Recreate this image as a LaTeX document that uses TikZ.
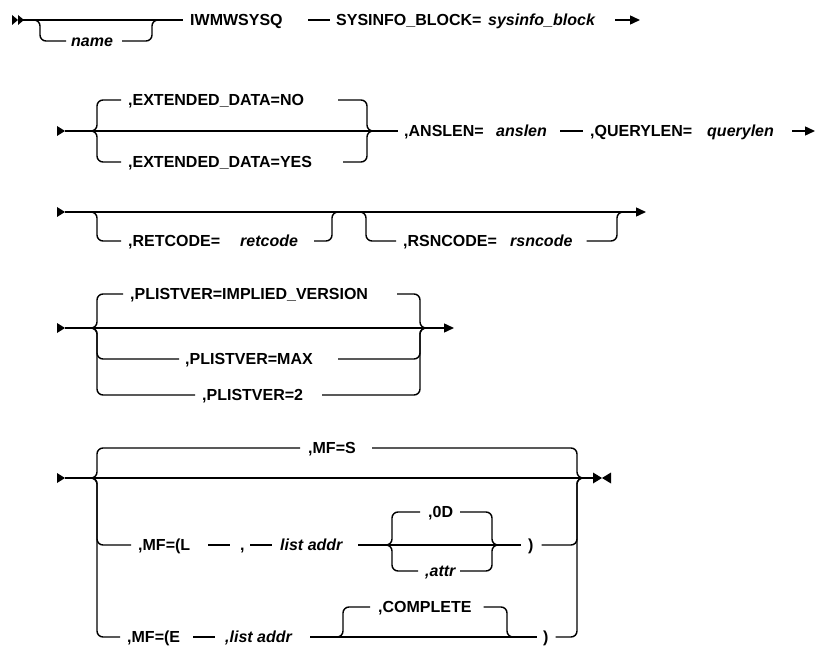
\documentclass[tikz,border=0pt]{standalone}
\usepackage{fontspec}
\setmainfont{Liberation Sans}
\usetikzlibrary{arrows.meta}
\tikzset{
  rr/.style={draw=black, line width=1.4pt, rounded corners=6pt},
  kw/.style={anchor=west, inner sep=0pt, text height=11.5pt, text depth=0pt, font=\fontsize{16}{18}\selectfont\bfseries},
  var/.style={kw, font=\fontsize{16}{18}\selectfont\bfseries\itshape},
  tipr/.style={-{Triangle[length=10pt,width=9pt]}},
}
\begin{document}
\begin{tikzpicture}[x=1pt,y=-1pt]
\useasboundingbox (0,0) rectangle (817,647);
% ---------------- Row 1
\coordinate (r1s) at (12,20);
\fill (r1s) ++(0,-5) -- ++(6,5) -- ++(-6,5) -- cycle;
\fill (r1s) ++(6,-5) -- ++(6,5) -- ++(-6,5) -- cycle;
\coordinate (r1a) at (18,20);
\node[var] (name) at (71,41) {name};
\node[kw] (iw) at (190,20) {IWMWSYSQ};
\node[kw] (sysb) at (336,20) {SYSINFO\_BLOCK=};
\node[var] (sysv) at (488,20) {sysinfo\_block};
\coordinate (r1e) at (640,20);
\draw[rr] (r1a) -- ([xshift=-7]iw.west);
\draw[rr] (33,20) -- (40,20) -- (40,41) -- ([xshift=-5]name.west);
\draw[rr] ([xshift=9]name.east) -- (152,41) -- (152,20) -- (159,20);
\draw[rr] ([xshift=-28]sysb.west) -- ([xshift=-6]sysb.west);
\draw[line width=1.4pt, tipr] ([xshift=-25]r1e) -- (r1e);
% ---------------- Row 2
\coordinate (r2s) at (57,131);
\fill (r2s) ++(0,-5) -- ++(8,5) -- ++(-8,5) -- cycle;
\node[kw] (edno) at (128,100) {,EXTENDED\_DATA=NO};
\node[kw] (edyes) at (128,162) {,EXTENDED\_DATA=YES};
\node[kw] (ansk) at (404,131) {,ANSLEN=};
\node[var] (ansv) at (496,131) {anslen};
\node[kw] (qk) at (590,131) {,QUERYLEN=};
\node[var] (qv) at (707,131) {querylen};
\coordinate (r2e) at (815,131);
\draw[rr] ([xshift=8]r2s) -- ([xshift=-6]ansk.west);
\draw[rr] (90,131) -- (97,131) -- (97,100) -- ([xshift=-7]edno.west);
\draw[rr] (338,100) -- (367,100) -- (367,131) -- (374,131);
\draw[rr] (90,131) -- (97,131) -- (97,162) -- ([xshift=-7]edyes.west);
\draw[rr] (343,162) -- (367,162) -- (367,131) -- (374,131);
\draw[rr] ([xshift=-30]qk.west) -- ([xshift=-7]qk.west);
\draw[line width=1.4pt, tipr] ([xshift=-23]r2e) -- (r2e);
% ---------------- Row 3
\coordinate (r3s) at (57,212);
\fill (r3s) ++(0,-5) -- ++(8,5) -- ++(-8,5) -- cycle;
\coordinate (r3e) at (646,212);
\draw[line width=1.4pt, tipr] ([xshift=8]r3s) -- (r3e);
\node[kw] (rck) at (128,241) {,RETCODE=};
\node[var] (rcv) at (240,241) {retcode};
\node[kw] (rsk) at (403,241) {,RSNCODE=};
\node[var] (rsv) at (510,241) {rsncode};
\draw[rr] (90,212) -- (97,212) -- (97,241) -- ([xshift=-7]rck.west);
\draw[rr] ([xshift=16]rcv.east) -- (332,241) -- (332,212) -- (339,212);
\draw[rr] (359,212) -- (366,212) -- (366,241) -- ([xshift=-7]rsk.west);
\draw[rr] ([xshift=14]rsv.east) -- (617,241) -- (617,212) -- (624,212);
% ---------------- Row 4
\coordinate (r4s) at (57,328);
\fill (r4s) ++(0,-5) -- ++(8,5) -- ++(-8,5) -- cycle;
\coordinate (r4e) at (454,328);
\draw[line width=1.4pt, tipr] ([xshift=8]r4s) -- (r4e);
\node[kw] (pi) at (130,294) {,PLISTVER=IMPLIED\_VERSION};
\node[kw] (pm) at (185,359) {,PLISTVER=MAX};
\node[kw] (p2) at (202,395) {,PLISTVER=2};
\draw[rr] (90,328) -- (97,328) -- (97,294) -- ([xshift=-7]pi.west);
\draw[rr] (397,294) -- (420,294) -- (420,328) -- (427,328);
\draw[rr] (90,328) -- (97,328) -- (97,359) -- ([xshift=-6]pm.west);
\draw[rr] (338,359) -- (420,359) -- (420,328) -- (427,328);
\draw[rr] (90,328) -- (97,328) -- (97,395) -- ([xshift=-7]p2.west);
\draw[rr] (322,395) -- (420,395) -- (420,328) -- (427,328);
% ---------------- Row 5
\coordinate (r5s) at (57,478);
\fill (r5s) ++(0,-5) -- ++(8,5) -- ++(-8,5) -- cycle;
\coordinate (r5e) at (602,478);
\draw[line width=1.4pt] ([xshift=8]r5s) -- ([xshift=-8]r5e);
\fill (r5e) -- ++(-9,-5.5) -- ++(0,11) -- cycle;
\fill (r5e) -- ++(9,-5.5) -- ++(0,11) -- cycle;
% top ,MF=S
\node[kw] (mfs) at (308,448) {,MF=S};
\draw[rr] (90,478) -- (97,478) -- (97,448) -- ([xshift=-8]mfs.west);
\draw[rr] (372,448) -- (577,448) -- (577,478) -- (584,478);
% ,MF=(L
\node[kw] (mfl) at (138,545) {,MF=(L};
\node[kw] (cm) at (240,545) {,};
\node[var] (la1) at (280,545) {list addr};
\node[kw] (od) at (428,512) {,0D};
\node[var] (attr) at (425,571) {,attr};
\node[kw] (rp1) at (528,545) {)};
\draw[rr] (90,478) -- (97,478) -- (97,545) -- ([xshift=-7]mfl.west);
\draw[rr] ([xshift=-32]cm.west) -- ([xshift=-10]cm.west);
\draw[rr] ([xshift=-30]la1.west) -- ([xshift=-8]la1.west);
\draw[rr] (358,545) -- ([xshift=-7]rp1.west);
\draw[rr] (385,545) -- (392,545) -- (392,512) -- ([xshift=-8]od.west);
\draw[rr] (460,512) -- (492,512) -- (492,545) -- (499,545);
\draw[rr] (385,545) -- (392,545) -- (392,571) -- ([xshift=-7]attr.west);
\draw[rr] (460,571) -- (492,571) -- (492,545) -- (499,545);
\draw[rr] ([xshift=8]rp1.east) -- (577,545) -- (577,478) -- (584,478);
% ,MF=(E
\node[kw] (mfe) at (127,637) {,MF=(E};
\node[var] (la2) at (225,637) {,list addr};
\node[kw] (comp) at (378,607) {,COMPLETE};
\node[kw] (rp2) at (543,637) {)};
\draw[rr] (90,478) -- (97,478) -- (97,637) -- ([xshift=-7]mfe.west);
\draw[rr] ([xshift=-32]la2.west) -- ([xshift=-10]la2.west);
\draw[rr] (310,637) -- ([xshift=-6]rp2.west);
\draw[rr] (336,637) -- (343,637) -- (343,607) -- ([xshift=-8]comp.west);
\draw[rr] ([xshift=12]comp.east) -- (507,607) -- (507,637) -- (514,637);
\draw[rr] ([xshift=7]rp2.east) -- (577,637) -- (577,478) -- (584,478);
\end{tikzpicture}
\end{document}
